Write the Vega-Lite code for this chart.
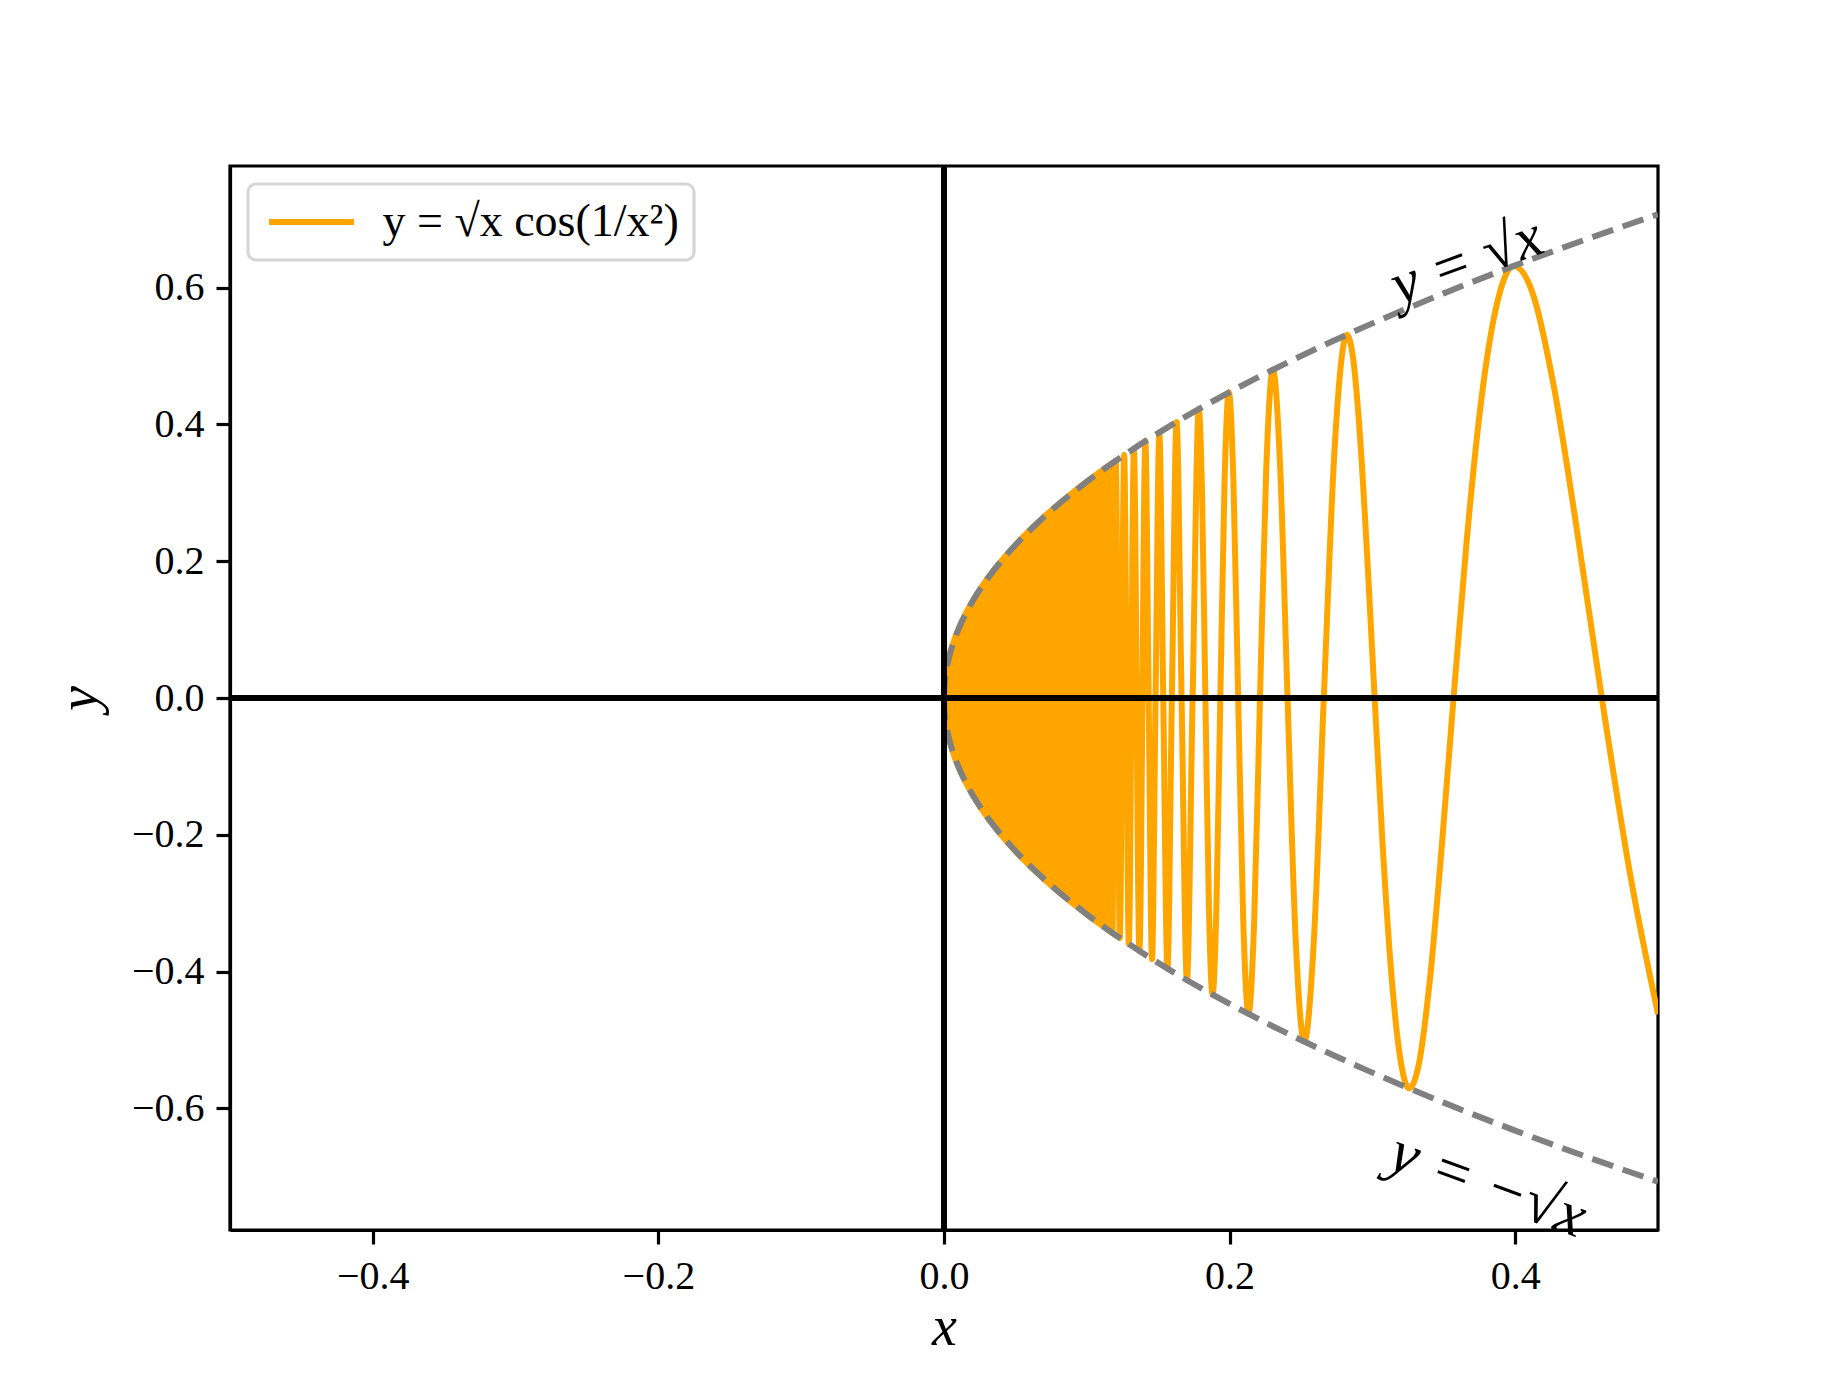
{
  "$schema": "https://vega.github.io/schema/vega-lite/v6.json",
  "width": 1428,
  "height": 1064,
  "autosize": {"type": "none"},
  "padding": {"left": 230, "top": 166, "right": 185, "bottom": 152},
  "background": "white",
  "config": {
    "view": {"stroke": "black", "strokeWidth": 3.2},
    "font": "Liberation Serif",
    "axis": {
      "domainColor": "black", "domainWidth": 3.2,
      "tickColor": "black", "tickWidth": 3.2, "tickSize": 14,
      "labelFont": "Liberation Serif", "labelFontSize": 40, "labelColor": "black", "labelPadding": 12,
      "grid": false,
      "titleFont": "Liberation Serif", "titleFontStyle": "italic", "titleFontWeight": "normal",
      "titleFontSize": 56, "titleColor": "black"
    },
    "legend": {
      "orient": "top-left", "offset": 18, "padding": 15,
      "fillColor": "white", "strokeColor": "#d6d6d6", "strokeWidth": 3.2, "cornerRadius": 8,
      "symbolType": "M-2.5,0L2.5,0", "symbolSize": 1156, "symbolStrokeWidth": 6, "symbolOffset": 25.5,
      "labelFont": "Liberation Serif", "labelFontSize": 46, "labelOffset": 48, "labelColor": "black", "labelLimit": 0
    }
  },
  "datasets": {
    "fill": [
      {"x": 0, "up": 0, "lo": 0},
      {"x": 0.0002, "up": 0.01414, "lo": -0.01414},
      {"x": 0.0005, "up": 0.02236, "lo": -0.02236},
      {"x": 0.001, "up": 0.03162, "lo": -0.03162},
      {"x": 0.002, "up": 0.04472, "lo": -0.04472},
      {"x": 0.004, "up": 0.06325, "lo": -0.06325},
      {"x": 0.007, "up": 0.08367, "lo": -0.08367},
      {"x": 0.01, "up": 0.1, "lo": -0.1},
      {"x": 0.015, "up": 0.12247, "lo": -0.12247},
      {"x": 0.02, "up": 0.14142, "lo": -0.14142},
      {"x": 0.03, "up": 0.17321, "lo": -0.17321},
      {"x": 0.04, "up": 0.2, "lo": -0.2},
      {"x": 0.05, "up": 0.22361, "lo": -0.22361},
      {"x": 0.06, "up": 0.24495, "lo": -0.24495},
      {"x": 0.07, "up": 0.26458, "lo": -0.26458},
      {"x": 0.08, "up": 0.28284, "lo": -0.28284},
      {"x": 0.09, "up": 0.3, "lo": -0.3},
      {"x": 0.1, "up": 0.31623, "lo": -0.31623},
      {"x": 0.11, "up": 0.33166, "lo": -0.33166},
      {"x": 0.118, "up": 0.34351, "lo": -0.34351}
    ],
    "env": [
      {"x": 0, "up": 0, "lo": 0},
      {"x": 0.0002, "up": 0.01414, "lo": -0.01414},
      {"x": 0.0005, "up": 0.02236, "lo": -0.02236},
      {"x": 0.001, "up": 0.03162, "lo": -0.03162},
      {"x": 0.002, "up": 0.04472, "lo": -0.04472},
      {"x": 0.004, "up": 0.06325, "lo": -0.06325},
      {"x": 0.007, "up": 0.08367, "lo": -0.08367},
      {"x": 0.01, "up": 0.1, "lo": -0.1},
      {"x": 0.015, "up": 0.12247, "lo": -0.12247},
      {"x": 0.02, "up": 0.14142, "lo": -0.14142},
      {"x": 0.03, "up": 0.17321, "lo": -0.17321},
      {"x": 0.04, "up": 0.2, "lo": -0.2},
      {"x": 0.05, "up": 0.22361, "lo": -0.22361},
      {"x": 0.07, "up": 0.26458, "lo": -0.26458},
      {"x": 0.1, "up": 0.31623, "lo": -0.31623},
      {"x": 0.13, "up": 0.36056, "lo": -0.36056},
      {"x": 0.16, "up": 0.4, "lo": -0.4},
      {"x": 0.2, "up": 0.44721, "lo": -0.44721},
      {"x": 0.25, "up": 0.5, "lo": -0.5},
      {"x": 0.3, "up": 0.54772, "lo": -0.54772},
      {"x": 0.35, "up": 0.59161, "lo": -0.59161},
      {"x": 0.4, "up": 0.63246, "lo": -0.63246},
      {"x": 0.45, "up": 0.67082, "lo": -0.67082},
      {"x": 0.5, "up": 0.70711, "lo": -0.70711}
    ],
    "curve": [
      {"x": 0.11284, "y": -0.33591},
      {"x": 0.11517, "y": 0.33937},
      {"x": 0.11764, "y": -0.34299},
      {"x": 0.12028, "y": 0.34681},
      {"x": 0.12312, "y": -0.35089},
      {"x": 0.12616, "y": 0.35519},
      {"x": 0.12943, "y": -0.35977},
      {"x": 0.13298, "y": 0.36467},
      {"x": 0.13684, "y": -0.36992},
      {"x": 0.14105, "y": 0.37557},
      {"x": 0.14331, "y": 0},
      {"x": 0.14567, "y": -0.38167},
      {"x": 0.14816, "y": 0},
      {"x": 0.15079, "y": 0.38831},
      {"x": 0.15355, "y": 0},
      {"x": 0.15648, "y": -0.39558},
      {"x": 0.15958, "y": 0},
      {"x": 0.16287, "y": 0.40357},
      {"x": 0.16637, "y": 0},
      {"x": 0.17011, "y": -0.41245},
      {"x": 0.17411, "y": 0},
      {"x": 0.17841, "y": 0.42239},
      {"x": 0.18069, "y": 0.30057},
      {"x": 0.18305, "y": 0},
      {"x": 0.1855, "y": -0.30455},
      {"x": 0.18806, "y": -0.43366},
      {"x": 0.19073, "y": -0.30882},
      {"x": 0.19352, "y": 0},
      {"x": 0.19643, "y": 0.31339},
      {"x": 0.19947, "y": 0.44662},
      {"x": 0.20266, "y": 0.31833},
      {"x": 0.20601, "y": 0},
      {"x": 0.20954, "y": -0.32368},
      {"x": 0.21324, "y": -0.46178},
      {"x": 0.21716, "y": -0.32951},
      {"x": 0.22129, "y": 0},
      {"x": 0.22568, "y": 0.33592},
      {"x": 0.23033, "y": 0.47993},
      {"x": 0.23529, "y": 0.343},
      {"x": 0.24057, "y": 0},
      {"x": 0.24623, "y": -0.35088},
      {"x": 0.25231, "y": -0.50231},
      {"x": 0.25887, "y": -0.35977},
      {"x": 0.26596, "y": 0},
      {"x": 0.27367, "y": 0.36991},
      {"x": 0.28209, "y": 0.53112},
      {"x": 0.28661, "y": 0.49461},
      {"x": 0.29135, "y": 0.38168},
      {"x": 0.29633, "y": 0.20832},
      {"x": 0.30157, "y": 0},
      {"x": 0.3071, "y": -0.21207},
      {"x": 0.31296, "y": -0.39558},
      {"x": 0.31915, "y": -0.52193},
      {"x": 0.32574, "y": -0.57073},
      {"x": 0.33274, "y": -0.53293},
      {"x": 0.34022, "y": -0.41245},
      {"x": 0.34823, "y": -0.22582},
      {"x": 0.35682, "y": 0},
      {"x": 0.3661, "y": 0.23154},
      {"x": 0.37612, "y": 0.43366},
      {"x": 0.38703, "y": 0.57476},
      {"x": 0.39894, "y": 0.63162},
      {"x": 0.41202, "y": 0.59303},
      {"x": 0.42649, "y": 0.46178},
      {"x": 0.44259, "y": 0.25459},
      {"x": 0.46066, "y": 0},
      {"x": 0.48114, "y": -0.26544},
      {"x": 0.5, "y": -0.4622}
    ]
  },
  "layer": [
    {
      "data": {"name": "fill"},
      "mark": {"type": "area", "interpolate": "monotone", "color": "#FFA500", "stroke": "#FFA500", "strokeWidth": 6, "clip": true},
      "encoding": {
        "x": {"field": "x", "type": "quantitative", "title": "x",
              "scale": {"domain": [-0.5, 0.5], "nice": false, "zero": false},
              "axis": {"values": [-0.4, -0.2, 0, 0.2, 0.4], "format": ".1f", "titlePadding": 4}},
        "y": {"field": "up", "type": "quantitative", "title": "y",
              "scale": {"domain": [-0.7778, 0.7778], "nice": false, "zero": false},
              "axis": {"values": [-0.6, -0.4, -0.2, 0, 0.2, 0.4, 0.6], "format": ".1f", "titlePadding": 23}},
        "y2": {"field": "lo"}
      }
    },
    {
      "data": {"name": "curve"},
      "mark": {"type": "line", "interpolate": "monotone", "strokeWidth": 6, "clip": true},
      "encoding": {
        "x": {"field": "x", "type": "quantitative", "title": "x"},
        "y": {"field": "y", "type": "quantitative", "title": "y"},
        "color": {"datum": "y = √x cos(1/x²)", "type": "nominal",
                  "scale": {"range": ["#FFA500"]},
                  "legend": {"title": null}}
      }
    },
    {
      "data": {"name": "env"},
      "mark": {"type": "line", "interpolate": "monotone", "color": "#808080", "strokeWidth": 6, "strokeDash": [22, 10], "clip": true},
      "encoding": {
        "x": {"field": "x", "type": "quantitative", "title": "x"},
        "y": {"field": "up", "type": "quantitative", "title": "y"}
      }
    },
    {
      "data": {"name": "env"},
      "mark": {"type": "line", "interpolate": "monotone", "color": "#808080", "strokeWidth": 6, "strokeDash": [22, 10], "clip": true},
      "encoding": {
        "x": {"field": "x", "type": "quantitative", "title": "x"},
        "y": {"field": "lo", "type": "quantitative", "title": "y"}
      }
    },
    {
      "data": {"values": [{}]},
      "mark": {"type": "rule", "color": "black", "strokeWidth": 6},
      "encoding": {"x": {"datum": 0, "type": "quantitative", "title": "x"}}
    },
    {
      "data": {"values": [{}]},
      "mark": {"type": "rule", "color": "black", "strokeWidth": 6},
      "encoding": {"y": {"datum": 0, "type": "quantitative", "title": "y"}}
    },
    {
      "data": {"values": [{"x": 0.366, "y": 0.638, "label": "y = √x"}]},
      "mark": {"type": "text", "angle": -20, "align": "center", "baseline": "middle", "font": "Liberation Serif", "fontStyle": "italic", "fontSize": 60, "color": "black"},
      "encoding": {
        "x": {"field": "x", "type": "quantitative", "title": "x"},
        "y": {"field": "y", "type": "quantitative", "title": "y"},
        "text": {"field": "label"}
      }
    },
    {
      "data": {"values": [{"x": 0.381, "y": -0.712, "label": "y = −√x"}]},
      "mark": {"type": "text", "angle": 20, "align": "center", "baseline": "middle", "font": "Liberation Serif", "fontStyle": "italic", "fontSize": 62, "color": "black"},
      "encoding": {
        "x": {"field": "x", "type": "quantitative", "title": "x"},
        "y": {"field": "y", "type": "quantitative", "title": "y"},
        "text": {"field": "label"}
      }
    }
  ]
}
